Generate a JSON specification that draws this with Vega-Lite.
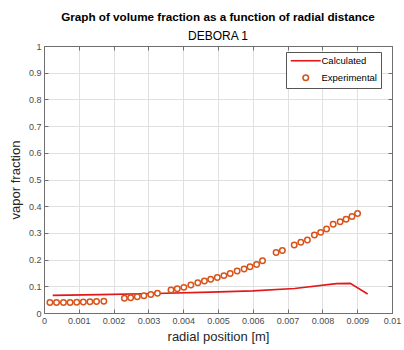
{
  "$schema": "https://vega.github.io/schema/vega-lite/v6.json",
  "width": 348,
  "height": 267,
  "autosize": {"type": "none"},
  "padding": {"left": 44, "top": 46, "right": 12, "bottom": 37},
  "background": "white",
  "title": {
    "text": "Graph of volume fraction as a function of radial distance",
    "subtitle": "DEBORA 1",
    "anchor": "middle",
    "font": "Liberation Sans",
    "fontSize": 11.7,
    "fontWeight": "bold",
    "color": "#000000",
    "subtitleFont": "Liberation Sans",
    "subtitleFontSize": 12,
    "subtitleColor": "#000000",
    "subtitlePadding": 7,
    "offset": 0
  },
  "data": {
    "values": [
      {"series": "Calculated", "r": 0.00025, "v": 0.066},
      {"series": "Calculated", "r": 0.0016, "v": 0.069},
      {"series": "Calculated", "r": 0.0032, "v": 0.073},
      {"series": "Calculated", "r": 0.0048, "v": 0.078},
      {"series": "Calculated", "r": 0.006, "v": 0.083},
      {"series": "Calculated", "r": 0.0072, "v": 0.092},
      {"series": "Calculated", "r": 0.0084, "v": 0.110},
      {"series": "Calculated", "r": 0.0088, "v": 0.111},
      {"series": "Calculated", "r": 0.0093, "v": 0.071},
      {"series": "Experimental", "r": 0.00017, "v": 0.039},
      {"series": "Experimental", "r": 0.00036, "v": 0.039},
      {"series": "Experimental", "r": 0.00056, "v": 0.039},
      {"series": "Experimental", "r": 0.00075, "v": 0.039},
      {"series": "Experimental", "r": 0.00094, "v": 0.040},
      {"series": "Experimental", "r": 0.00113, "v": 0.041},
      {"series": "Experimental", "r": 0.00132, "v": 0.042},
      {"series": "Experimental", "r": 0.00151, "v": 0.043},
      {"series": "Experimental", "r": 0.00172, "v": 0.044},
      {"series": "Experimental", "r": 0.00231, "v": 0.055},
      {"series": "Experimental", "r": 0.00249, "v": 0.057},
      {"series": "Experimental", "r": 0.00268, "v": 0.061},
      {"series": "Experimental", "r": 0.00287, "v": 0.065},
      {"series": "Experimental", "r": 0.00307, "v": 0.069},
      {"series": "Experimental", "r": 0.00326, "v": 0.074},
      {"series": "Experimental", "r": 0.00365, "v": 0.086},
      {"series": "Experimental", "r": 0.00383, "v": 0.091},
      {"series": "Experimental", "r": 0.00402, "v": 0.096},
      {"series": "Experimental", "r": 0.00422, "v": 0.105},
      {"series": "Experimental", "r": 0.00442, "v": 0.113},
      {"series": "Experimental", "r": 0.00461, "v": 0.120},
      {"series": "Experimental", "r": 0.00479, "v": 0.126},
      {"series": "Experimental", "r": 0.00498, "v": 0.133},
      {"series": "Experimental", "r": 0.00517, "v": 0.140},
      {"series": "Experimental", "r": 0.00535, "v": 0.148},
      {"series": "Experimental", "r": 0.00555, "v": 0.157},
      {"series": "Experimental", "r": 0.00575, "v": 0.165},
      {"series": "Experimental", "r": 0.00592, "v": 0.173},
      {"series": "Experimental", "r": 0.00611, "v": 0.182},
      {"series": "Experimental", "r": 0.00628, "v": 0.196},
      {"series": "Experimental", "r": 0.00667, "v": 0.227},
      {"series": "Experimental", "r": 0.00685, "v": 0.234},
      {"series": "Experimental", "r": 0.00719, "v": 0.255},
      {"series": "Experimental", "r": 0.00738, "v": 0.265},
      {"series": "Experimental", "r": 0.00757, "v": 0.273},
      {"series": "Experimental", "r": 0.00777, "v": 0.292},
      {"series": "Experimental", "r": 0.00795, "v": 0.302},
      {"series": "Experimental", "r": 0.00812, "v": 0.315},
      {"series": "Experimental", "r": 0.00831, "v": 0.332},
      {"series": "Experimental", "r": 0.00851, "v": 0.342},
      {"series": "Experimental", "r": 0.00868, "v": 0.351},
      {"series": "Experimental", "r": 0.00885, "v": 0.361},
      {"series": "Experimental", "r": 0.00901, "v": 0.373}
    ]
  },
  "layer": [
    {
      "transform": [{"filter": "datum.series === 'Calculated'"}],
      "mark": {"type": "line", "strokeWidth": 1.6},
      "encoding": {
        "x": {
          "field": "r", "type": "quantitative",
          "scale": {"domain": [0, 0.01], "nice": false, "zero": false},
          "axis": {
            "orient": "bottom", "title": "radial position [m]",
            "values": [0, 0.001, 0.002, 0.003, 0.004, 0.005, 0.006, 0.007, 0.008, 0.009, 0.01],
            "format": ".3~f", "grid": true, "gridColor": "#e0e0e0", "gridWidth": 1,
            "tickSize": -4, "labelPadding": 7, "titlePadding": 5, "labelFlush": false
          }
        },
        "y": {
          "field": "v", "type": "quantitative",
          "scale": {"domain": [0, 1], "nice": false, "zero": false},
          "axis": {
            "orient": "left", "title": "vapor fraction",
            "values": [0, 0.1, 0.2, 0.3, 0.4, 0.5, 0.6, 0.7, 0.8, 0.9, 1],
            "format": ".1~f", "grid": true, "gridColor": "#e0e0e0", "gridWidth": 1,
            "tickSize": -4, "labelPadding": 7, "titlePadding": 6, "labelFlush": false
          }
        },
        "color": {
          "field": "series", "type": "nominal",
          "scale": {"domain": ["Calculated", "Experimental"], "range": ["#e0191b", "#d95319"]},
          "legend": {
            "orient": "none", "legendX": 242, "legendY": 6, "title": null,
            "strokeColor": "#555555", "fillColor": "white", "padding": 4,
            "labelFont": "Liberation Sans", "labelFontSize": 9.5, "labelColor": "#000000",
            "symbolSize": 64, "symbolOffset": 11, "labelOffset": 11, "rowPadding": 5,
            "encode": {
              "symbols": {
                "update": {
                  "shape": {"signal": "datum.value === 'Calculated' ? 'stroke' : 'circle'"},
                  "size": {"signal": "datum.value === 'Calculated' ? 900 : 30"},
                  "fill": {"signal": "datum.value === 'Calculated' ? 'transparent' : 'white'"},
                  "stroke": {"signal": "datum.value === 'Calculated' ? '#e0191b' : '#d95319'"},
                  "strokeWidth": {"value": 1.6},
                  "opacity": {"value": 1}
                }
              }
            }
          }
        }
      }
    },
    {
      "transform": [{"filter": "datum.series === 'Experimental'"}],
      "mark": {"type": "point", "filled": false, "fill": "white", "fillOpacity": 1, "opacity": 1, "strokeWidth": 1.5, "size": 30},
      "encoding": {
        "x": {
          "field": "r", "type": "quantitative",
          "scale": {"domain": [0, 0.01], "nice": false, "zero": false},
          "axis": {
            "orient": "top", "title": null, "labels": false, "grid": false,
            "values": [0, 0.001, 0.002, 0.003, 0.004, 0.005, 0.006, 0.007, 0.008, 0.009, 0.01],
            "tickSize": -4
          }
        },
        "y": {
          "field": "v", "type": "quantitative",
          "scale": {"domain": [0, 1], "nice": false, "zero": false},
          "axis": {
            "orient": "right", "title": null, "labels": false, "grid": false,
            "values": [0, 0.1, 0.2, 0.3, 0.4, 0.5, 0.6, 0.7, 0.8, 0.9, 1],
            "tickSize": -4
          }
        },
        "color": {"field": "series", "type": "nominal"}
      }
    }
  ],
  "resolve": {"axis": {"x": "independent", "y": "independent"}},
  "config": {
    "font": "Liberation Sans",
    "view": {"stroke": null},
    "axis": {
      "domainColor": "#6f6f6f",
      "tickColor": "#6f6f6f",
      "labelColor": "#4a4a4a",
      "labelFont": "Liberation Sans",
      "labelFontSize": 9,
      "titleFont": "Liberation Sans",
      "titleFontSize": 13,
      "titleFontWeight": "normal",
      "titleColor": "#262626"
    }
  }
}
